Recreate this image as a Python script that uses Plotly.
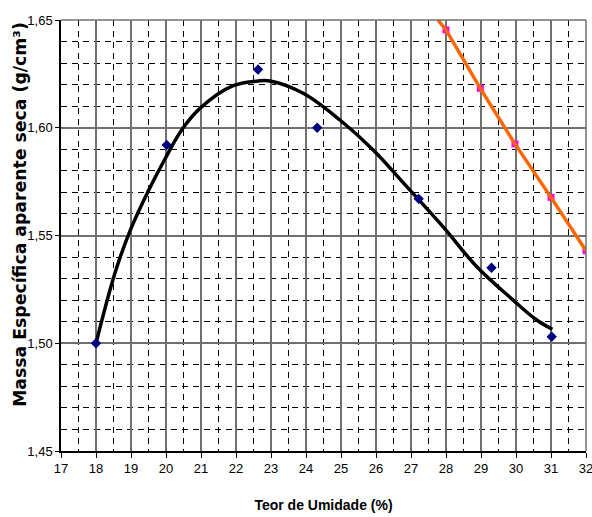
import plotly.graph_objects as go

# Measured points (diamonds)
x_pts = [18.0, 20.02, 22.63, 24.32, 27.22, 29.30, 31.02]
y_pts = [1.500, 1.592, 1.627, 1.600, 1.567, 1.535, 1.503]

# Fitted (trend) curve
x_fit = [18.0, 18.54, 18.97, 19.49, 19.97, 20.47, 20.97, 21.92, 22.64, 22.97, 23.92, 24.97, 25.92, 26.88, 27.92, 28.88, 29.92, 30.59, 31.04]
y_fit = [1.500, 1.5325, 1.552, 1.5705, 1.5855, 1.5995, 1.609, 1.6195, 1.6217, 1.6217, 1.616, 1.6036, 1.5897, 1.5727, 1.554, 1.5355, 1.520, 1.5108, 1.5065]

# Saturation curve points (squares) and line
x_sat = [28.0, 28.98, 29.97, 31.0, 32.0]
y_sat = [1.6454, 1.6183, 1.5925, 1.5677, 1.5429]
x_sat_line = [27.77, 28.0, 28.98, 29.97, 31.0, 32.0]
y_sat_line = [1.650, 1.6454, 1.6183, 1.5925, 1.5677, 1.5429]

x_ticks = list(range(17, 33))
y_ticks = [1.45, 1.50, 1.55, 1.60, 1.65]

fig = go.Figure()
fig.add_trace(go.Scatter(x=x_fit, y=y_fit, mode="lines", line=dict(color="black", width=3.5, shape="spline", smoothing=1.0), showlegend=False))
fig.add_trace(go.Scatter(x=x_pts, y=y_pts, mode="markers", marker=dict(symbol="diamond", color="#000080", size=8), showlegend=False))
fig.add_trace(go.Scatter(x=x_sat, y=y_sat, mode="markers", marker=dict(symbol="square", color="#FF00FF", size=7), showlegend=False))
fig.add_trace(go.Scatter(x=x_sat_line, y=y_sat_line, mode="lines", line=dict(color="#FF6600", width=3.5), showlegend=False))

tickfont = dict(family="Liberation Sans, Arial", size=13, color="black")

# gray frame lines on top and right edges of the plot area
fig.add_shape(type="line", xref="x domain", yref="y domain", x0=0, x1=1, y0=1, y1=1, line=dict(color="#707070", width=1.5))
fig.add_shape(type="line", xref="x domain", yref="y domain", x0=1, x1=1, y0=0, y1=1, line=dict(color="#707070", width=1.5))

# y-axis title as annotation (placed slightly above centre, as in the reference)
fig.add_annotation(
    text="<b>Massa Específica aparente seca (g/cm³)</b>",
    xref="paper", yref="paper", x=-0.078, y=0.548, textangle=-90,
    showarrow=False, xanchor="center", yanchor="middle",
    font=dict(family="DejaVu Sans", size=17.3, color="black"),
)

fig.update_layout(
    width=592, height=517,
    margin=dict(l=61, r=6, t=20, b=66),
    paper_bgcolor="white", plot_bgcolor="white",
    separators=",.",
    xaxis=dict(
        range=[17, 32], tickvals=x_ticks, ticktext=[str(v) for v in x_ticks],
        ticks="outside", ticklen=5, tickcolor="black",
        showline=True, linecolor="black", linewidth=1.5,
        showgrid=True, gridcolor="#707070", gridwidth=1.5,
        zeroline=False, tickfont=tickfont, ticklabeloverflow="allow", automargin=False,
        minor=dict(dtick=0.5, showgrid=True, gridcolor="black", gridwidth=1, griddash="6px,5px"),
        title=dict(text="<b>Teor de Umidade (%)</b>", font=dict(family="Liberation Sans, Arial", size=14, color="black"), standoff=25),
    ),
    yaxis=dict(
        range=[1.45, 1.65], tickvals=y_ticks, tickformat=".2f",
        ticks="outside", ticklen=4, tickcolor="black",
        showline=True, linecolor="black", linewidth=1.5,
        showgrid=True, gridcolor="#707070", gridwidth=1.5,
        zeroline=False, tickfont=tickfont, automargin=False,
        minor=dict(dtick=0.01, showgrid=True, gridcolor="black", gridwidth=1, griddash="6px,5px"),
    ),
)

fig.write_html("out.html")
